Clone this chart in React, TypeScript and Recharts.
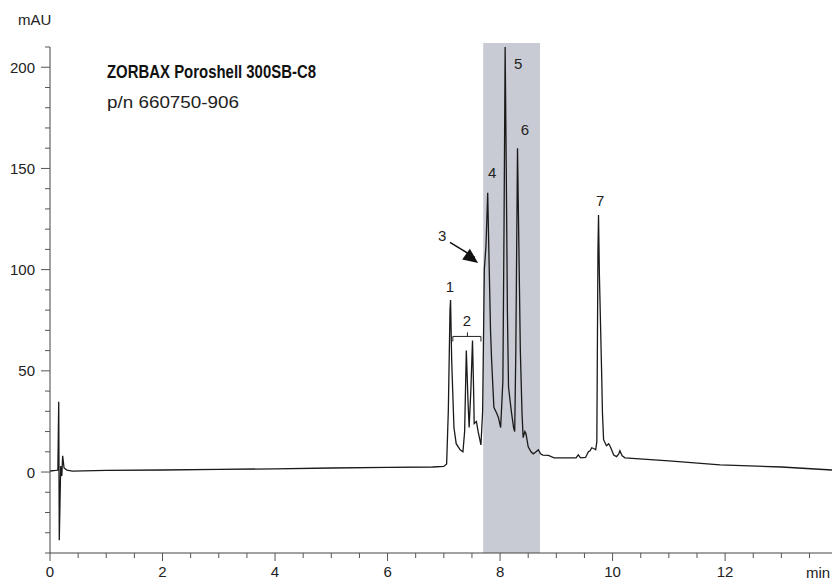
import { LineChart, Line, XAxis, YAxis, ReferenceArea, ReferenceLine, ReferenceDot } from "recharts";

// retention time (min) and absorbance (mAU)
const times = [
  0, 0.1, 0.14, 0.155, 0.165, 0.19, 0.21, 0.225, 0.25, 0.3, 0.4, 1, 2, 3, 4, 5, 6, 6.8,
  7.0, 7.05, 7.08, 7.11, 7.12, 7.14, 7.18, 7.22, 7.29, 7.34, 7.37, 7.4, 7.43, 7.45, 7.48, 7.51,
  7.53, 7.54, 7.58, 7.61, 7.66, 7.69, 7.72, 7.75, 7.78, 7.8, 7.83, 7.85, 7.89, 7.94, 7.97, 8.01,
  8.05, 8.07, 8.09, 8.11, 8.13, 8.15, 8.2, 8.24, 8.26, 8.28, 8.31, 8.33, 8.36, 8.39, 8.41, 8.44,
  8.46, 8.5, 8.55, 8.59, 8.64, 8.68, 8.72, 8.76, 8.86, 8.96, 9.2, 9.35, 9.39, 9.43, 9.52, 9.57,
  9.6, 9.63, 9.67, 9.7, 9.72, 9.74, 9.75, 9.765, 9.807, 9.82, 9.84, 9.89, 9.93, 9.96, 10.02,
  10.07, 10.11, 10.13, 10.17, 10.22, 11.0, 11.91, 13.0, 13.9,
];
const absorbance = [
  0.5, 0.8, 1, 34.7, -33.7, 3, -2, 8, 2, 1, 0.5, 0.8, 1.0, 1.3, 1.6, 2.0, 2.3, 2.5,
  2.8, 4, 30, 80, 85, 55, 22, 14, 11, 10, 20, 60, 35, 22, 40, 65,
  40, 24, 25, 20, 13.4, 30, 100, 112, 138, 110, 70, 55, 32, 29, 27, 22,
  45, 120, 210, 150, 80, 42, 30, 22, 20, 60, 160, 120, 60, 29, 17, 20,
  19, 12.5, 10, 9, 10, 11, 9, 8.4, 8.2, 7, 7, 7, 8.5, 7, 7.2, 10,
  10.5, 12, 11.5, 11, 15, 110, 127, 98, 47, 29, 16, 13, 14, 12.5, 8.4,
  7.6, 9, 10.5, 8, 7, 5.5, 3.5, 2.5, 1,
];

const xTicks = [0, 0.5, 1, 1.5, 2, 2.5, 3, 3.5, 4, 4.5, 5, 5.5, 6, 6.5, 7, 7.5, 8, 8.5, 9, 9.5, 10, 10.5, 11, 11.5, 12, 12.5, 13, 13.5];
const yTicks = [-40, -30, -20, -10, 0, 10, 20, 30, 40, 50, 60, 70, 80, 90, 100, 110, 120, 130, 140, 150, 160, 170, 180, 190, 200, 210];

// peak labels: [label, time, mAU]
const peakLabels: [string, number, number][] = [
  ["1", 7.11, 91.6],
  ["2", 7.41, 75],
  ["3", 6.97, 117],
  ["4", 7.86, 148],
  ["5", 8.32, 202],
  ["6", 8.44, 169],
  ["7", 9.78, 134],
];

const fractionWindow = [7.7, 8.71];

const data = times.map((t, i) => ({ t, v: absorbance[i] }));

const FONT = "'Liberation Sans', Arial, sans-serif";

const YTick = (props: any) => {
  const { x, y, payload } = props;
  const major = payload.value % 50 === 0;
  return (
    <g>
      <line x1={x - (major ? 9 : 5)} x2={x} y1={y} y2={y} stroke="#555" />
      {major && (
        <text x={x - 15} y={y} dy={5.5} textAnchor="end" fontFamily={FONT} fontSize={15} fill="#222">
          {payload.value}
        </text>
      )}
    </g>
  );
};

const XTick = (props: any) => {
  const { x, y, payload } = props;
  const major = payload.value % 2 === 0;
  return (
    <g>
      <line x1={x} x2={x} y1={y} y2={y + (major ? 8 : 5)} stroke="#555" />
      {major && (
        <text x={x} y={y + 24} textAnchor="middle" fontFamily={FONT} fontSize={15} fill="#222">
          {payload.value}
        </text>
      )}
    </g>
  );
};

const ArrowHead = (props: any) => {
  const { cx, cy } = props;
  const ux = 0.808, uy = 0.589;
  const bx = cx - 15 * ux, by = cy - 15 * uy;
  const px = -uy * 6.5, py = ux * 6.5;
  return <polygon points={`${cx},${cy} ${bx + px},${by + py} ${bx - px},${by - py}`} fill="#111" />;
};

export default function App() {
  return (
    <div style={{ position: "absolute", left: 0, top: 0, width: 833, height: 580 }}>
      <LineChart width={833} height={580} data={data} margin={{ top: 47, right: 1, bottom: 0, left: 0 }}>
        <ReferenceArea
          x1={fractionWindow[0]}
          x2={fractionWindow[1]}
          y1={-40}
          y2={212}
          fill="#c9cbd4"
          fillOpacity={1}
          stroke="none"
          ifOverflow="visible"
        />
        <XAxis
          dataKey="t"
          type="number"
          domain={[0, 13.9]}
          ticks={xTicks}
          interval={0}
          tickSize={0}
          tickMargin={0}
          tickLine={false}
          tick={<XTick />}
          height={27}
          axisLine={{ stroke: "#444" }}
          allowDataOverflow
        />
        <YAxis
          type="number"
          domain={[-40, 210]}
          ticks={yTicks}
          interval={0}
          tickSize={0}
          tickMargin={0}
          tickLine={false}
          tick={<YTick />}
          width={50}
          axisLine={{ stroke: "#444" }}
          allowDataOverflow
        />
        <Line
          type="linear"
          dataKey="v"
          stroke="#1a1a1a"
          strokeWidth={1.3}
          dot={false}
          isAnimationActive={false}
        />
        {/* bracket over peak group 2 */}
        <ReferenceLine segment={[{ x: 7.16, y: 67 }, { x: 7.66, y: 67 }]} stroke="#222" ifOverflow="visible" />
        <ReferenceLine segment={[{ x: 7.16, y: 67 }, { x: 7.16, y: 64.5 }]} stroke="#222" ifOverflow="visible" />
        <ReferenceLine segment={[{ x: 7.66, y: 67 }, { x: 7.66, y: 64.5 }]} stroke="#222" ifOverflow="visible" />
        <ReferenceLine segment={[{ x: 7.42, y: 67 }, { x: 7.42, y: 69 }]} stroke="#222" ifOverflow="visible" />
        {/* arrow to shoulder 3 */}
        <ReferenceLine segment={[{ x: 7.11, y: 113.5 }, { x: 7.55, y: 106 }]} stroke="#111" strokeWidth={1.5} ifOverflow="visible" />
        <ReferenceDot x={7.61} y={103.3} r={0} shape={<ArrowHead />} ifOverflow="visible" />
        {peakLabels.map(([label, t, v]) => (
          <ReferenceDot
            key={label}
            x={t}
            y={v}
            r={0}
            ifOverflow="visible"
            shape={(p: any) => (
              <text x={p.cx} y={p.cy} dy={5.5} textAnchor="middle" fontFamily={FONT} fontSize={15} fill="#222">
                {label}
              </text>
            )}
          />
        ))}
      </LineChart>
      <svg width={833} height={580} style={{ position: "absolute", left: 0, top: 0, pointerEvents: "none" }}>
        <text x={18} y={25} fontFamily={FONT} fontSize={15} fill="#222">mAU</text>
        <text x={806} y={578} fontFamily={FONT} fontSize={15} fill="#222">min</text>
        <text x={107} y={78} fontFamily={FONT} fontSize={18} fontWeight="bold" fill="#111" textLength={209} lengthAdjust="spacingAndGlyphs">
          ZORBAX Poroshell 300SB-C8
        </text>
        <text x={107} y={108} fontFamily={FONT} fontSize={17} fill="#222" textLength={132} lengthAdjust="spacingAndGlyphs">
          p/n 660750-906
        </text>
      </svg>
    </div>
  );
}
